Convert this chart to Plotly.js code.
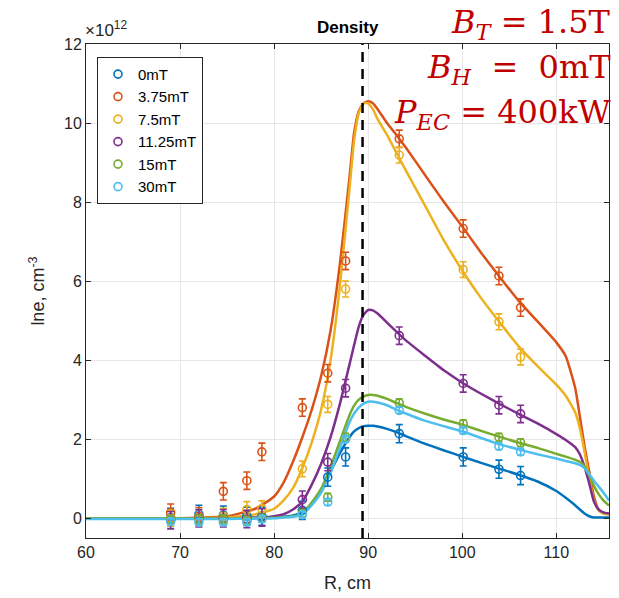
<!DOCTYPE html>
<html>
<head>
<meta charset="utf-8">
<script src="https://cdn.plot.ly/plotly-3.0.1.min.js"></script>
<style>
  html, body { margin: 0; padding: 0; background: #fff; }
  #chart { width: 619px; height: 598px; }
</style>
</head>
<body>
<div id="chart"></div>
<script>
// Measurement radii (cm) shared by all probe scans
const rPoints = [69, 72, 74.6, 77.1, 78.7, 83, 85.7, 87.6, 93.3, 100.1, 103.9, 106.2];

// Measured line-integrated density (x10^12 cm^-3) for each field
const ne0mT    = [0.02, 0.10, 0.08, 0.05, 0.05, 0.20, 1.04, 1.55, 2.14, 1.55, 1.24, 1.08];
const ne375mT  = [0.14, 0.05, 0.68, 0.95, 1.68, 2.80, 3.67, 6.51, 9.60, 7.33, 6.13, 5.33];
const ne75mT   = [0.00, 0.02, 0.05, 0.22, 0.24, 1.25, 2.88, 5.80, 9.19, 6.29, 4.97, 4.08];
const ne1125mT = [-0.05, 0.00, 0.00, -0.02, 0.02, 0.47, 1.42, 3.29, 4.62, 3.41, 2.86, 2.64];
const ne15mT   = [-0.03, -0.02, -0.02, -0.05, 0.00, 0.12, 0.53, 2.05, 2.92, 2.39, 2.05, 1.91];
const ne30mT   = [-0.08, -0.10, -0.10, -0.10, -0.02, 0.09, 0.41, 2.00, 2.73, 2.22, 1.82, 1.68];

// Error bar half-widths per field
const err0mT = 0.23, err375mT = 0.22, err75mT = 0.20, err1125mT = 0.22, err15mT = 0.10, err30mT = 0.08;

// Radii for the fitted profiles
const rFit = [60, 70, 75, 78, 80, 81, 82, 83, 84, 85, 86, 87, 88, 88.5, 89, 89.5, 90, 90.5, 91, 92, 93, 94,
              96, 98, 100, 102, 104, 106, 108, 110, 111, 112, 112.5, 113, 113.5, 114, 114.5, 115, 115.6];

const fit0mT    = [0, 0, 0, 0.01, 0.02, 0.04, 0.07, 0.15, 0.38, 0.72, 1.18, 1.65, 2.05, 2.20, 2.28, 2.33, 2.34, 2.34, 2.32, 2.26, 2.18, 2.08,
                   1.89, 1.72, 1.56, 1.40, 1.25, 1.10, 0.93, 0.69, 0.52, 0.33, 0.22, 0.12, 0.05, 0.02, 0.02, 0.02, 0.02];
const fit375mT  = [0, 0, 0.05, 0.24, 0.55, 0.90, 1.43, 2.05, 2.75, 3.60, 4.75, 6.45, 8.60, 9.75, 10.30, 10.50, 10.55, 10.50, 10.35, 10.00, 9.70, 9.38,
                   8.70, 8.02, 7.38, 6.72, 6.10, 5.50, 4.98, 4.45, 4.10, 3.30, 2.58, 1.82, 1.18, 0.55, 0.22, 0.13, 0.11];
const fit75mT   = [0, 0, 0.02, 0.10, 0.24, 0.45, 0.76, 1.27, 1.92, 2.75, 4.00, 5.90, 8.30, 9.55, 10.25, 10.50, 10.50, 10.35, 10.10, 9.70, 9.25, 8.80,
                   7.93, 7.05, 6.27, 5.57, 4.95, 4.35, 3.85, 3.38, 3.10, 2.68, 2.28, 1.68, 1.00, 0.45, 0.20, 0.12, 0.10];
const fit1125mT = [0, 0, 0, 0.01, 0.05, 0.10, 0.22, 0.42, 0.85, 1.38, 2.05, 2.90, 3.88, 4.38, 4.85, 5.15, 5.27, 5.26, 5.18, 4.95, 4.72, 4.50,
                   4.12, 3.75, 3.43, 3.15, 2.89, 2.64, 2.40, 2.13, 1.98, 1.80, 1.62, 1.30, 0.88, 0.42, 0.22, 0.15, 0.12];
const fit15mT   = [0, 0, 0, 0, 0.01, 0.03, 0.05, 0.12, 0.40, 0.75, 1.30, 1.95, 2.60, 2.85, 3.00, 3.08, 3.12, 3.12, 3.10, 3.02, 2.92, 2.82,
                   2.65, 2.50, 2.37, 2.21, 2.06, 1.91, 1.78, 1.63, 1.56, 1.48, 1.43, 1.31, 1.09, 0.82, 0.61, 0.45, 0.32];
const fit30mT   = [-0.02, -0.02, -0.02, -0.01, 0, 0.02, 0.04, 0.10, 0.33, 0.65, 1.15, 1.78, 2.42, 2.65, 2.80, 2.90, 2.95, 2.95, 2.93, 2.86, 2.75, 2.65,
                   2.47, 2.33, 2.20, 2.03, 1.87, 1.74, 1.62, 1.51, 1.45, 1.39, 1.35, 1.27, 1.11, 0.95, 0.80, 0.65, 0.45];

const fieldLabels = ['0mT', '3.75mT', '7.5mT', '11.25mT', '15mT', '30mT'];
const colors = ['#0072BD', '#D95319', '#EDB120', '#7E2F8E', '#77AC30', '#4DBEEE'];
const measured = [ne0mT, ne375mT, ne75mT, ne1125mT, ne15mT, ne30mT];
const errors = [err0mT, err375mT, err75mT, err1125mT, err15mT, err30mT];
const fits = [fit0mT, fit375mT, fit75mT, fit1125mT, fit15mT, fit30mT];

// Radius of the density position marker
const densityR = 89.4;

const axisColor = '#262626';
const sans = 'Liberation Sans, Arial, Helvetica, sans-serif';

const traces = [];
fits.forEach((f, i) => {
  traces.push({
    x: rFit, y: f, type: 'scatter', mode: 'lines',
    line: { color: colors[i], width: 2.5, shape: 'spline', smoothing: 0.5 },
    showlegend: false, hoverinfo: 'skip'
  });
});
measured.forEach((m, i) => {
  traces.push({
    x: rPoints, y: m, type: 'scatter', mode: 'markers', name: fieldLabels[i],
    marker: { symbol: 'circle-open', size: 8, color: colors[i], line: { width: 1.6, color: colors[i] } },
    error_y: { type: 'constant', value: errors[i], color: colors[i], thickness: 1.6, width: 3.5 }
  });
});

const redText = '#C00000';
const serif = 'DejaVu Serif, Liberation Serif, serif';

const layout = {
  width: 619, height: 598,
  margin: { l: 86, r: 10, t: 44, b: 60 },
  paper_bgcolor: '#fff', plot_bgcolor: '#fff',
  showlegend: true,
  legend: {
    x: 0.021, y: 0.974, xanchor: 'left', yanchor: 'top',
    bgcolor: '#fff', bordercolor: axisColor, borderwidth: 1,
    font: { family: sans, size: 15, color: '#000' },
    tracegroupgap: 0, itemwidth: 30
  },
  xaxis: {
    range: [60, 115.6], tickvals: [60, 70, 80, 90, 100, 110],
    ticks: 'inside', ticklen: 5, tickcolor: axisColor, mirror: 'ticks',
    showline: true, linecolor: axisColor, linewidth: 1,
    showgrid: true, gridcolor: '#e6e6e6', zeroline: false,
    tickfont: { family: sans, size: 16, color: axisColor },
    title: { text: 'R, cm', font: { family: sans, size: 18, color: axisColor }, standoff: 16 }
  },
  yaxis: {
    range: [-0.5, 12], tickvals: [0, 2, 4, 6, 8, 10, 12],
    ticks: 'inside', ticklen: 5, tickcolor: axisColor, mirror: 'ticks',
    showline: true, linecolor: axisColor, linewidth: 1,
    showgrid: true, gridcolor: '#e6e6e6', zeroline: false,
    tickfont: { family: sans, size: 16, color: axisColor },
    title: { text: 'lne, cm<sup>-3</sup>', font: { family: sans, size: 18, color: axisColor }, standoff: 14 }
  },
  shapes: [{
    type: 'line', xref: 'x', yref: 'paper', x0: densityR, x1: densityR, y0: 0, y1: 1,
    line: { color: '#000', width: 2.5, dash: '10px,7px' }
  }],
  annotations: [
    { text: '<b>Density</b>', xref: 'paper', yref: 'paper', x: 0.5, y: 1.034, xanchor: 'center', yanchor: 'middle',
      showarrow: false, font: { family: sans, size: 17, color: '#000' } },
    { text: '×10<sup>12</sup>', xref: 'paper', yref: 'paper', x: -0.005, y: 1.03, xanchor: 'left', yanchor: 'middle',
      showarrow: false, font: { family: sans, size: 17, color: axisColor } },
    { text: '<i>B</i><sub><i>T</i></sub> = 1.5T', xref: 'paper', yref: 'paper', x: 1.007, y: 1.04, xanchor: 'right', yanchor: 'middle',
      showarrow: false, font: { family: serif, size: 32, color: redText } },
    { text: '<i>B</i><sub><i>H</i></sub>  =  0mT', xref: 'paper', yref: 'paper', x: 1.007, y: 0.949, xanchor: 'right', yanchor: 'middle',
      showarrow: false, font: { family: serif, size: 32, color: redText } },
    { text: '<i>P</i><sub><i>EC</i></sub> = 400kW', xref: 'paper', yref: 'paper', x: 1.007, y: 0.858, xanchor: 'right', yanchor: 'middle',
      showarrow: false, font: { family: serif, size: 32, color: redText } }
  ]
};

Plotly.newPlot('chart', traces, layout, { displayModeBar: false, staticPlot: true });
</script>
</body>
</html>
